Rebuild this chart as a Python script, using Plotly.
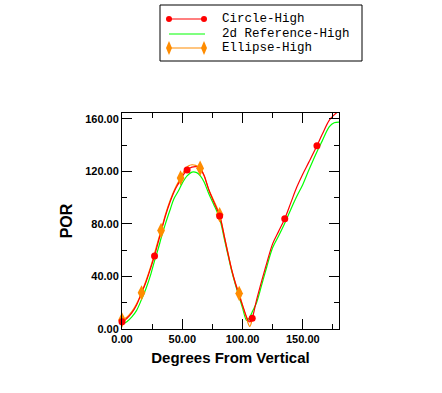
import plotly.graph_objects as go

# Circle-High (red) curve
circle_x = [0, 4, 8, 12, 16, 20, 24, 27, 30, 33, 36, 40, 44, 47, 50, 54, 58, 62, 65, 68, 72, 76, 81, 85, 88, 91, 94, 97, 100, 103, 105, 106.5, 108, 111.6, 116, 120, 125, 130, 135, 140, 145, 150, 155, 161.7, 166, 172, 176, 180]
circle_y = [5.5, 8, 12, 18, 27, 36, 47, 55.6, 66, 76, 86, 97, 106, 111, 116, 121, 123.2, 123.5, 122, 117, 106, 97, 86, 70, 57, 45, 35, 26, 18, 10, 6, 5.5, 8.2, 22, 37, 50, 65, 74.5, 84, 96, 108, 118, 127, 139.4, 148, 159, 163, 166]
circle_mx = [0, 27, 54, 81, 108, 135, 161.7]
circle_my = [5.5, 55.6, 121, 86, 8.2, 84, 139.4]

# 2d Reference-High (green) curve
ref_x = [0, 4, 8, 12, 16, 20, 24, 26.4, 30, 32.7, 36, 40, 43, 46.5, 50, 54, 58, 62, 65, 68, 72, 76, 81, 85, 88, 91, 94, 97, 100, 103.5, 106, 108, 111.6, 116, 120, 125, 130, 135, 140, 145, 150, 155, 161.7, 166, 172, 176, 180]
ref_y = [3.5, 5.5, 9, 14, 22, 31, 42, 50, 61, 70, 80, 91, 99, 104.6, 111, 116.5, 119.4, 119, 116.5, 112, 103, 95, 84, 68, 56, 44, 34, 25, 16, 6.5, 9, 13, 20, 34, 47, 62, 71, 80.5, 91, 101, 110, 121, 135, 143, 154, 157, 157.5]

# Ellipse-High (orange) curve
ell_x = [0, 4, 8, 12, 16.2, 20, 24, 28, 32.4, 36, 40, 44, 48.6, 52, 55, 58, 61, 64.8, 68, 72, 76, 81, 85, 88, 91, 94, 97.2, 100, 103, 106, 108, 109]
ell_y = [6.9, 9, 13, 19, 27.5, 37, 48, 61, 75, 87, 98, 107, 115, 121, 124, 125, 124.5, 122.4, 117, 106, 98, 86.9, 70, 57.5, 45, 35, 27, 18, 9, 2, 7, 9]
ell_mx = [0, 16.2, 32.4, 48.6, 64.8, 81, 97.2]
ell_my = [6.9, 27.5, 75, 115, 122.4, 86.9, 27]

x_ticks = [0, 50, 100, 150]
y_ticks = [0, 40, 80, 120, 160]

series_names = ["Circle-High", "2d Reference-High", "Ellipse-High"]

RED = "#ff0000"
GREEN = "#00ff00"
ORANGE = "#ff8c00"

W, H = 442, 393
L, R, T, B = 122, 103, 113, 64
PW, PH = W - L - R, H - T - B


def px(x):
    return (x - L) / PW


def py(y):
    return (H - B - y) / PH


fig = go.Figure()
fig.add_trace(go.Scatter(x=ref_x, y=ref_y, mode="lines", line=dict(color=GREEN, width=1.2, shape="spline"), showlegend=False, hoverinfo="skip"))
fig.add_trace(go.Scatter(x=ell_x, y=ell_y, mode="lines", line=dict(color=ORANGE, width=1.2, shape="spline"), showlegend=False, hoverinfo="skip"))
fig.add_trace(go.Scatter(x=circle_x, y=circle_y, mode="lines", line=dict(color=RED, width=1.2, shape="spline"), showlegend=False, hoverinfo="skip"))
fig.add_trace(go.Scatter(x=ell_mx, y=ell_my, mode="markers", marker=dict(symbol="diamond-tall", size=11, color=ORANGE), showlegend=False, cliponaxis=False))
fig.add_trace(go.Scatter(x=circle_mx, y=circle_my, mode="markers", marker=dict(symbol="circle", size=7, color=RED), showlegend=False, cliponaxis=False))

axis_common = dict(
    showline=True, linecolor="black", linewidth=1, mirror="ticks",
    ticks="inside", ticklen=10, tickwidth=1, tickcolor="black",
    showgrid=False, zeroline=False,
    tickfont=dict(family="Liberation Sans", size=11, color="black", weight="bold"),
    tickformat=".2f",
)

fig.update_xaxes(range=[0, 180], tickvals=x_ticks,
                 minor=dict(ticks="inside", ticklen=5, tickcolor="black", dtick=25, showgrid=False),
                 title=dict(text="Degrees From Vertical", font=dict(family="Liberation Sans", size=15, color="black", weight="bold"), standoff=8),
                 **axis_common)
fig.update_yaxes(range=[0, 164.4], tickvals=y_ticks,
                 minor=dict(ticks="inside", ticklen=5, tickcolor="black", dtick=20, showgrid=False),
                 title=dict(text="POR", font=dict(family="Liberation Sans", size=16, color="black", weight="bold"), standoff=8),
                 **axis_common)

# manual legend (box, sample lines, symbols, labels)
shapes = [dict(type="rect", xref="paper", yref="paper", x0=px(160), x1=px(362), y0=py(61), y1=py(5),
               line=dict(color="black", width=1), fillcolor="white", layer="above")]
annotations = []
rows = [19, 34, 48]
colors = [RED, GREEN, ORANGE]
for name, row, col in zip(series_names, rows, colors):
    shapes.append(dict(type="line", xref="paper", yref="paper", x0=px(169), x1=px(205), y0=py(row), y1=py(row),
                       line=dict(color=col, width=1.2), layer="above"))
    annotations.append(dict(text=name, xref="paper", yref="paper", x=px(220), y=py(row), xanchor="left", yanchor="middle",
                            showarrow=False, font=dict(family="Liberation Mono", size=12.5, color="black")))
for cx in (169, 204):
    shapes.append(dict(type="circle", xref="paper", yref="paper", x0=px(cx - 3), x1=px(cx + 3), y0=py(rows[0] + 3), y1=py(rows[0] - 3),
                       line=dict(color=RED, width=0), fillcolor=RED, layer="above"))
    r = rows[2]
    path = "M {a},{b} L {c},{d} L {a},{e} L {f},{d} Z".format(
        a=px(cx), b=py(r - 7), c=px(cx + 3), d=py(r), e=py(r + 7), f=px(cx - 3))
    shapes.append(dict(type="path", xref="paper", yref="paper", path=path,
                       line=dict(color=ORANGE, width=0), fillcolor=ORANGE, layer="above"))

fig.update_layout(
    width=W, height=H,
    margin=dict(l=L, r=R, t=T, b=B, autoexpand=False),
    paper_bgcolor="white", plot_bgcolor="white",
    showlegend=False,
    shapes=shapes, annotations=annotations,
)

fig.write_html("out.html", config={"displayModeBar": False, "staticPlot": True},
               post_script="document.body.style.margin='0';document.body.style.overflow='hidden';")
